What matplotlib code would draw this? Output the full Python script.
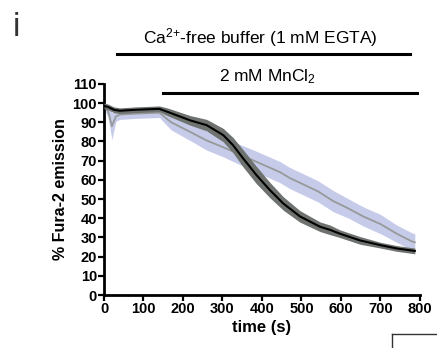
import matplotlib.pyplot as plt
import numpy as np
from matplotlib.lines import Line2D

plt.rcParams['font.family'] = ['Liberation Sans', 'DejaVu Sans']
plt.rcParams['mathtext.fontset'] = 'custom'
plt.rcParams['mathtext.rm'] = 'Liberation Sans'
plt.rcParams['mathtext.it'] = 'Liberation Sans:italic'
plt.rcParams['mathtext.bf'] = 'Liberation Sans:bold'

# black trace (mean) with dark grey SEM band
t_black = [0, 10, 25, 40, 80, 140, 160, 218, 260, 302, 327, 353, 386, 420,
           454, 496, 547, 572, 597, 648, 700, 741, 787]
m_black = [98.5, 98, 96.5, 96, 96.5, 97, 95.5, 91, 88.5, 83.3, 78, 71, 62.5, 54.7,
           47.7, 41, 35.6, 34, 32, 28.5, 26, 24.3, 23]
e_black = [1.5, 1.5, 1.5, 1.5, 1.5, 1.5, 2, 2.5, 3, 3.5, 4, 4.5, 4.5, 4,
           3.5, 3, 2.5, 2.5, 2, 2, 1.5, 1.5, 1.5]

# grey trace (mean) with light blue SEM band
t_grey = [0, 10, 20, 30, 40, 80, 140, 170, 218, 260, 302, 386, 446, 470, 496,
          542, 580, 620, 656, 700, 741, 779, 787]
m_grey = [99, 96, 88, 93, 94, 94.5, 95, 90, 85, 80.5, 77, 69.4, 64, 61, 58.5,
          54, 49, 45, 41, 37, 32, 28, 27.5]
e_grey = [1.5, 3, 7, 2.5, 2.5, 2.5, 2.5, 4, 4.5, 5, 5, 5.5, 5.5, 5.5, 5.5,
          5.5, 5.5, 5, 5, 5, 4.5, 4.5, 4.5]

fig = plt.figure(figsize=(4.37, 3.48), dpi=100)
ax = fig.add_axes([0.238, 0.152, 0.723, 0.607])

tg = np.array(t_grey); mg = np.array(m_grey); eg = np.array(e_grey)
tb = np.array(t_black); mb = np.array(m_black); eb = np.array(e_black)

ax.fill_between(tg, mg - eg, mg + eg, color='#c6cbea', lw=0, zorder=1)
ax.plot(tg, mg, color='#979a98', lw=1.3, zorder=2)
ax.fill_between(tb, mb - eb, mb + eb, color='#6f736f', lw=0, zorder=3)
ax.plot(tb, mb, color='black', lw=1.5, zorder=4)

ax.set_xlim(0, 800)
ax.set_ylim(0, 110)
ax.set_xticks(range(0, 801, 100))
ax.set_yticks(range(0, 111, 10))
for s in ['top', 'right']:
    ax.spines[s].set_visible(False)
for s in ['left', 'bottom']:
    ax.spines[s].set_linewidth(2)
ax.tick_params(width=1.6, length=4, labelsize=10.5, pad=1)
for lab in ax.get_xticklabels() + ax.get_yticklabels():
    lab.set_fontweight('bold')
ax.set_xlabel('time (s)', fontsize=12, fontweight='bold', labelpad=3)
ax.set_ylabel('% Fura-2 emission', fontsize=11.5, fontweight='bold', labelpad=3)

# treatment bars
ax.plot([33, 775], [125.5, 125.5], color='black', lw=2.2, clip_on=False)
ax.text(395, 134, 'Ca$^{2{+}}$-free buffer (1 mM EGTA)', ha='center', va='center',
        fontsize=12.5)
ax.plot([150, 792], [105, 105], color='black', lw=2.2, clip_on=False)
ax.text(413, 113.5, '2 mM MnCl$_2$', ha='center', va='center', fontsize=12.5)

fig.text(0.03, 0.965, 'i', fontsize=24, color='#333333', va='top')

# corner of the neighbouring panel
fig.add_artist(Line2D([392 / 437, 392 / 437], [0, 14 / 348], color='#333333', lw=1))
fig.add_artist(Line2D([392 / 437, 1], [14 / 348, 14 / 348], color='#333333', lw=1))

fig.savefig('out.png', dpi=100)
